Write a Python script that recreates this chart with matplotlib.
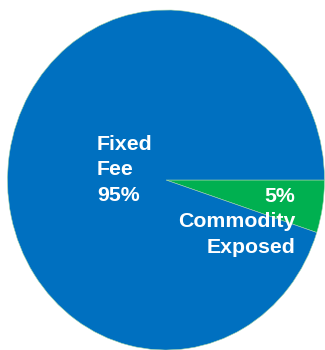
import matplotlib.pyplot as plt

# slices, clockwise from 3 o'clock
labels = ["5%\nCommodity\nExposed", "Fixed\nFee\n95%"]
shares = [5, 95]
colors = ["#00B050", "#0070C0"]

fig = plt.figure(figsize=(3.25, 3.5), dpi=100)
ax = fig.add_axes([7.5 / 325, 0, 317 / 325, 340 / 350])

ax.pie(shares, colors=colors, startangle=0, counterclock=False,
       radius=1, wedgeprops=dict(linewidth=0.4, edgecolor="#9fd3a8"))
ax.set_aspect("auto")
ax.set_xlim(-1, 1)
ax.set_ylim(-1, 1)
ax.axis("off")

font = dict(family=["Liberation Sans", "DejaVu Sans"], weight="bold",
            size=15.3, color="white", linespacing=1.42)
ax.text(-0.435, 0.059, labels[1], ha="left", va="center",
        multialignment="left", **font)
ax.text(0.814, -0.247, labels[0], ha="right", va="center",
        multialignment="right", **font)

plt.savefig("out.png", dpi=100)
